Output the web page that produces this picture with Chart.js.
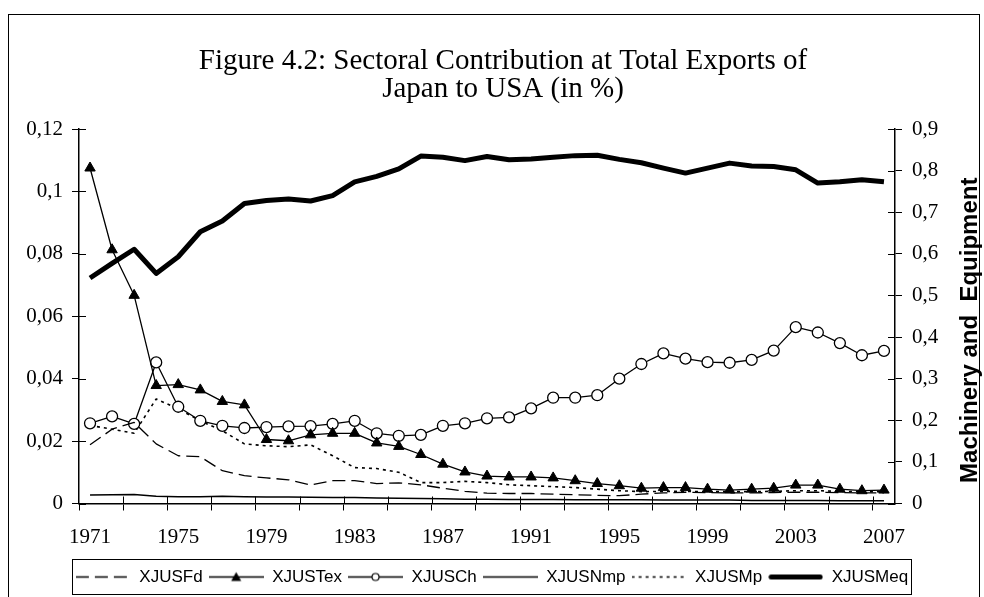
<!DOCTYPE html>
<html>
<head>
<meta charset="utf-8">
<script src="https://cdn.jsdelivr.net/npm/chart.js@4/dist/chart.umd.min.js"></script>
<style>
  html, body { margin: 0; padding: 0; background: #fff; }
</style>
</head>
<body>
<canvas id="exportChart" width="984" height="597"></canvas>
<script>
// years on the x axis
const years = ['1971','1972','1973','1974','1975','1976','1977','1978','1979','1980',
  '1981','1982','1983','1984','1985','1986','1987','1988','1989','1990',
  '1991','1992','1993','1994','1995','1996','1997','1998','1999','2000',
  '2001','2002','2003','2004','2005','2006','2007'];

// left axis series
const xjusFd = [0.0188,0.0238,0.0260,0.0191,0.0153,0.0150,0.0105,0.0089,0.0082,0.0076,
  0.0059,0.0073,0.0073,0.0064,0.0066,0.0060,0.0049,0.0039,0.0033,0.0032,
  0.0032,0.0030,0.0028,0.0026,0.0025,0.0030,0.0034,0.0036,0.0035,0.0034,
  0.0034,0.0035,0.0036,0.0036,0.0035,0.0034,0.0034];
const xjusTex = [0.1075,0.0813,0.0667,0.0378,0.0381,0.0364,0.0327,0.0316,0.0205,0.0201,
  0.0220,0.0225,0.0225,0.0194,0.0183,0.0157,0.0126,0.0101,0.0088,0.0085,
  0.0085,0.0082,0.0073,0.0064,0.0057,0.0049,0.0051,0.0051,0.0046,0.0043,
  0.0046,0.0049,0.0059,0.0059,0.0046,0.0041,0.0043];
const xjusCh = [0.0257,0.0279,0.0255,0.0452,0.0310,0.0265,0.0249,0.0242,0.0245,0.0247,
  0.0248,0.0255,0.0265,0.0225,0.0217,0.0220,0.0249,0.0257,0.0273,0.0276,
  0.0305,0.0339,0.0339,0.0347,0.0400,0.0447,0.0481,0.0464,0.0453,0.0451,
  0.0460,0.0490,0.0565,0.0548,0.0514,0.0475,0.0489];
const xjusNmp = [0.0027,0.0028,0.0029,0.0023,0.0022,0.0022,0.0023,0.0022,0.0021,0.0021,
  0.0020,0.0019,0.0019,0.0018,0.0017,0.0016,0.0015,0.0014,0.0014,0.0013,
  0.0013,0.0013,0.0012,0.0012,0.0012,0.0012,0.0011,0.0011,0.0011,0.0011,
  0.0010,0.0010,0.0010,0.0010,0.0009,0.0009,0.0009];
const xjusMp = [0.0250,0.0238,0.0225,0.0335,0.0303,0.0265,0.0233,0.0191,0.0185,0.0182,
  0.0188,0.0153,0.0115,0.0112,0.0100,0.0067,0.0067,0.0071,0.0067,0.0060,
  0.0057,0.0054,0.0051,0.0046,0.0041,0.0038,0.0039,0.0039,0.0038,0.0038,
  0.0038,0.0039,0.0041,0.0041,0.0039,0.0038,0.0038];
// right axis series
const xjusMeq = [0.542,0.577,0.611,0.553,0.593,0.653,0.679,0.721,0.728,0.732,
  0.727,0.740,0.773,0.786,0.804,0.835,0.832,0.824,0.834,0.826,
  0.828,0.832,0.836,0.837,0.827,0.819,0.806,0.794,0.806,0.818,
  0.811,0.810,0.802,0.770,0.773,0.778,0.773];

const leftTicks = [0, 0.02, 0.04, 0.06, 0.08, 0.1, 0.12];
const rightTicks = [0, 0.1, 0.2, 0.3, 0.4, 0.5, 0.6, 0.7, 0.8, 0.9];

const titleLines = ['Figure 4.2: Sectoral Contribution at Total Exports of', 'Japan to USA (in %)'];
const rightTitle = 'Machinery and  Equipment';

const serif = 'Liberation Serif';
const sans = 'Liberation Sans';

function commaNum(v) {
  return String(+v.toFixed(2)).replace('.', ',');
}

// small picture of line + marker for the legend
function legendSample(ds) {
  const c = document.createElement('canvas');
  c.width = 55; c.height = 17;
  const g = c.getContext('2d');
  const mid = 8.5;
  g.strokeStyle = '#000';
  g.lineWidth = ds.borderWidth;
  g.lineCap = ds.borderWidth > 3 ? 'round' : 'butt';
  g.setLineDash(ds.borderDash || []);
  const x0 = ds.borderWidth > 3 ? 3 : 0;
  g.beginPath(); g.moveTo(x0, mid); g.lineTo(55 - x0, mid); g.stroke();
  g.setLineDash([]);
  g.lineWidth = 1.2;
  if (ds.pointStyle === 'triangle') {
    g.fillStyle = '#000';
    g.beginPath(); g.moveTo(27.5, 3.5); g.lineTo(32.5, 12.5); g.lineTo(22.5, 12.5); g.closePath(); g.fill();
  } else if (ds.pointStyle === 'circle') {
    g.fillStyle = '#fff';
    g.beginPath(); g.arc(27.5, mid, 3.5, 0, Math.PI * 2); g.fill(); g.stroke();
  }
  return c;
}

const frameAndText = {
  id: 'frameAndText',
  beforeDraw(chart) {
    const { ctx } = chart;
    ctx.save();
    ctx.fillStyle = '#fff';
    ctx.fillRect(0, 0, chart.width, chart.height);
    ctx.strokeStyle = '#000';
    ctx.lineWidth = 1;
    ctx.strokeRect(8.5, 14.5, 971, 600);
    ctx.restore();
  },
  afterDraw(chart) {
    const { ctx, chartArea: a, scales } = chart;
    ctx.save();
    // title
    ctx.fillStyle = '#000';
    ctx.font = '29px "' + serif + '"';
    ctx.textAlign = 'center';
    ctx.textBaseline = 'alphabetic';
    ctx.fillText(titleLines[0], 503, 69);
    ctx.fillText(titleLines[1], 503, 97);
    // right axis title, reading upwards
    ctx.save();
    ctx.translate(977, (a.top + a.bottom) / 2 + 14);
    ctx.rotate(-Math.PI / 2);
    ctx.font = 'bold 24px "' + sans + '"';
    ctx.fillText(rightTitle, 0, 0);
    ctx.restore();
    // tick marks pointing into the plot
    ctx.strokeStyle = '#000';
    ctx.lineWidth = 1;
    ctx.beginPath();
    scales.y.ticks.forEach(t => {
      const py = Math.round(scales.y.getPixelForValue(t.value)) + 0.5;
      ctx.moveTo(a.left, py); ctx.lineTo(a.left + 7, py);
    });
    scales.y2.ticks.forEach(t => {
      const py = Math.round(scales.y2.getPixelForValue(t.value)) + 0.5;
      ctx.moveTo(a.right - 7, py); ctx.lineTo(a.right, py);
    });
    for (let i = 2; i < years.length; i += 2) {
      const px = Math.round(scales.x.getPixelForValue(i - 0.5)) + 0.5;
      ctx.moveTo(px, a.bottom); ctx.lineTo(px, a.bottom - 7);
    }
    ctx.stroke();
    // legend frame
    const boxes = chart.legend.legendHitBoxes;
    if (boxes && boxes.length) {
      const l = Math.min(...boxes.map(b => b.left)) - 4;
      const r = Math.max(...boxes.map(b => b.left + b.width)) + 3;
      const cy = boxes[0].top + boxes[0].height / 2;
      ctx.strokeRect(Math.round(l) + 0.5, Math.round(cy - 18) + 0.5, Math.round(r - l), 35);
    }
    ctx.restore();
  }
};

const ctx = document.getElementById('exportChart').getContext('2d');
const datasets = [
  { label: 'XJUSFd', data: xjusFd, yAxisID: 'y', borderColor: '#000', borderWidth: 1.3,
    borderDash: [13, 6], pointRadius: 0, pointStyle: false },
  { label: 'XJUSTex', data: xjusTex, yAxisID: 'y', borderColor: '#000', borderWidth: 1.3,
    pointStyle: 'triangle', pointRadius: 6, backgroundColor: '#000', pointBorderWidth: 1 },
  { label: 'XJUSCh', data: xjusCh, yAxisID: 'y', borderColor: '#000', borderWidth: 1.3,
    pointStyle: 'circle', pointRadius: 5.5, backgroundColor: '#fff', pointBorderWidth: 1.3 },
  { label: 'XJUSNmp', data: xjusNmp, yAxisID: 'y', borderColor: '#000', borderWidth: 1.5,
    pointRadius: 0, pointStyle: false },
  { label: 'XJUSMp', data: xjusMp, yAxisID: 'y', borderColor: '#000', borderWidth: 1.6,
    borderDash: [3, 4], pointRadius: 0, pointStyle: false },
  { label: 'XJUSMeq', data: xjusMeq, yAxisID: 'y2', borderColor: '#000', borderWidth: 5,
    pointRadius: 0, pointStyle: false }
];

const myChart = new Chart(ctx, {
  type: 'line',
  data: { labels: years, datasets: datasets },
  plugins: [frameAndText],
  options: {
    responsive: false,
    animation: false,
    devicePixelRatio: 1,
    layout: { padding: { top: 129, left: 0, right: 0, bottom: 1.5 } },
    elements: { line: { tension: 0, borderJoinStyle: 'round' } },
    plugins: {
      title: { display: false },
      tooltip: { enabled: false },
      legend: {
        position: 'bottom',
        labels: {
          usePointStyle: true,
          pointStyleWidth: 55,
          boxHeight: 17,
          padding: 6,
          color: '#000',
          font: { family: sans, size: 17 },
          generateLabels(chart) {
            return chart.data.datasets.map((ds, i) => ({
              text: ds.label,
              pointStyle: legendSample(ds),
              fontColor: '#000',
              lineWidth: 0,
              strokeStyle: 'rgba(0,0,0,0)',
              fillStyle: 'rgba(0,0,0,0)',
              hidden: false,
              datasetIndex: i
            }));
          }
        }
      }
    },
    scales: {
      x: {
        type: 'category',
        offset: true,
        grid: {
          offset: true,
          drawOnChartArea: false,
          drawTicks: true,
          tickLength: 7,
          color: c => (c.index % 2 === 0 ? '#000' : 'rgba(0,0,0,0)')
        },
        border: { display: true, color: '#000', width: 1.5 },
        ticks: {
          autoSkip: false,
          maxRotation: 0,
          padding: 14,
          color: '#000',
          font: { family: serif, size: 21 },
          callback: (v, i) => (i % 4 === 0 ? years[i] : '')
        },
        afterFit: s => { s.height = 59; }
      },
      y: {
        position: 'left',
        min: 0,
        max: 0.12,
        afterBuildTicks: s => { s.ticks = leftTicks.map(v => ({ value: v })); },
        grid: { drawOnChartArea: false, tickLength: 7, color: '#000' },
        border: { display: true, color: '#000', width: 1.5 },
        ticks: {
          padding: 9,
          color: '#000',
          font: { family: serif, size: 21 },
          callback: v => commaNum(v)
        },
        afterFit: s => { s.width = 79; }
      },
      y2: {
        position: 'right',
        min: 0,
        max: 0.9,
        afterBuildTicks: s => { s.ticks = rightTicks.map(v => ({ value: v })); },
        grid: { drawOnChartArea: false, tickLength: 7, color: '#000' },
        border: { display: true, color: '#000', width: 1.5 },
        ticks: {
          padding: 10,
          color: '#000',
          font: { family: serif, size: 21 },
          callback: v => commaNum(v)
        },
        afterFit: s => { s.width = 89; }
      }
    }
  }
});
</script>
</body>
</html>
